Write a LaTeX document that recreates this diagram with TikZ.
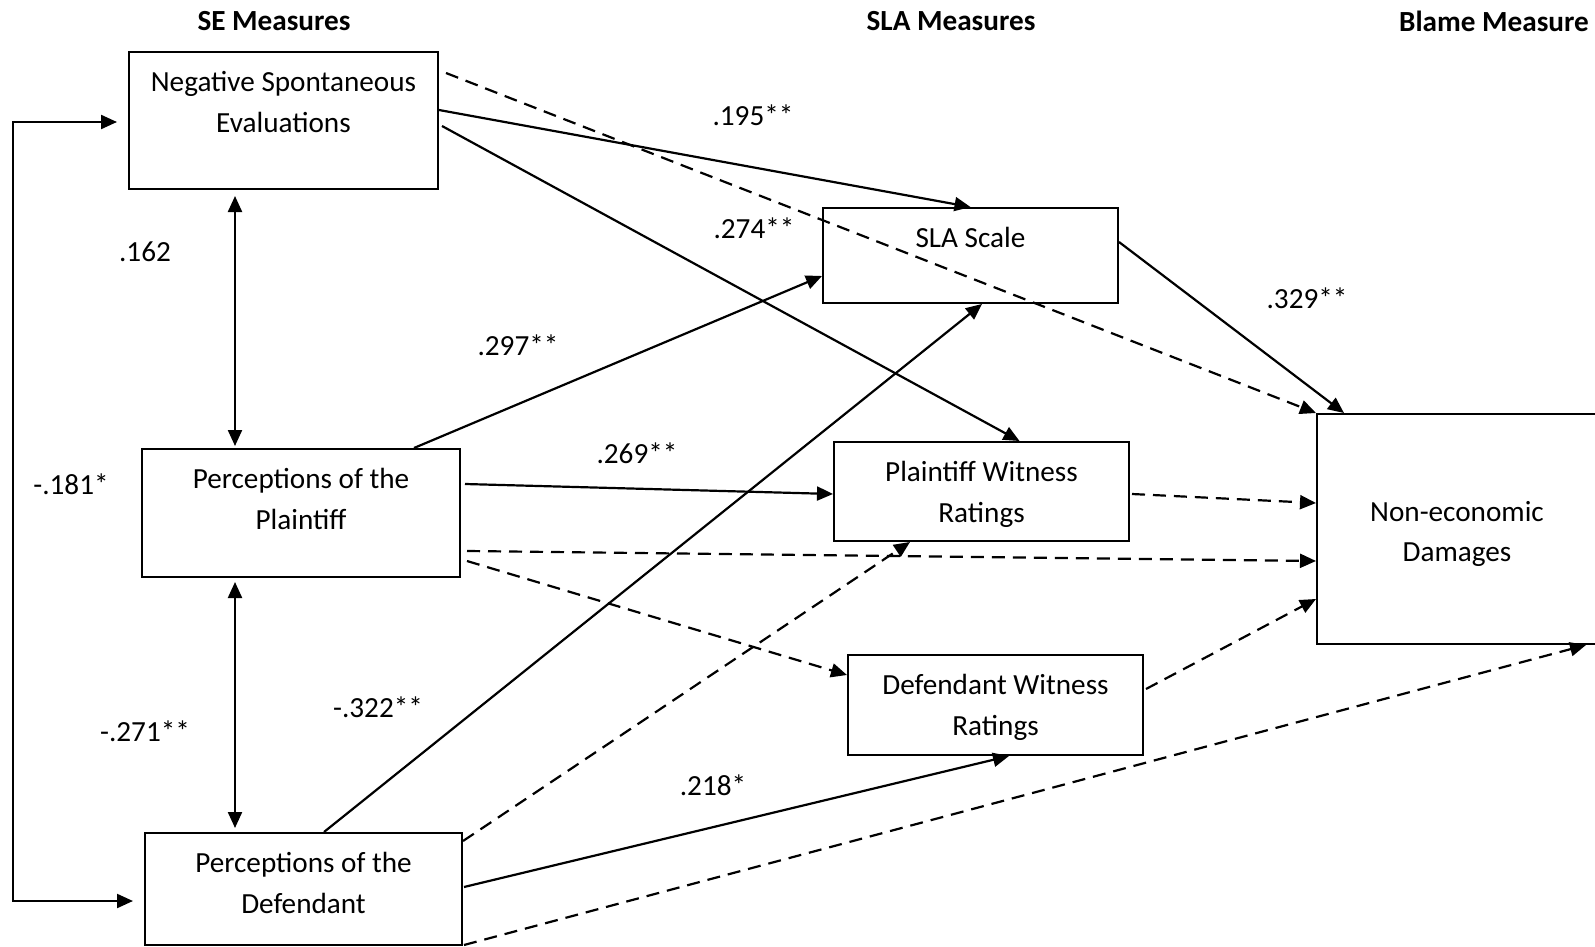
\documentclass[tikz,border=0pt]{standalone}
\usepackage{fontspec}
\setmainfont{Carlito}
\usetikzlibrary{arrows.meta, positioning, calc}

\begin{document}
\begin{tikzpicture}[
    x=0.5pt, y=-0.5pt,
    font=\fontsize{14.6}{20.3}\selectfont,
    >={Triangle[length=8pt,width=7pt]},
    measure/.style={rectangle, draw, line width=1pt, inner sep=0pt},
    boxtext/.style={inner sep=0pt, align=center},
    heading/.style={font=\fontsize{14.6}{20.3}\selectfont\bfseries},
    coef/.style={inner sep=0pt},
    sig/.style={->, line width=1.1pt},
    nonsig/.style={->, line width=1.1pt, dash pattern=on 6.5pt off 4pt},
    corr/.style={<->, line width=1.1pt}
]
\useasboundingbox (0,0) rectangle (1595,947);

% column headings
\node[heading] (seh) at (274,21) {SE Measures};
\node[heading] (slah) at (951,21) {SLA Measures};
\node[heading] (blameh) at (1494,21) {Blame Measure};

% measures
\node[measure, minimum width=154.5pt, minimum height=68.5pt] (nse) at (283.5,120.5) {};
\node[measure, minimum width=159pt, minimum height=64pt] (pp) at (301,513) {};
\node[measure, minimum width=158.5pt, minimum height=56pt] (dp) at (303.5,889) {};
\node[measure, minimum width=147.5pt, minimum height=47.5pt] (sla) at (970.5,255.5) {};
\node[measure, minimum width=147.5pt, minimum height=49.5pt] (pw) at (981.5,491.5) {};
\node[measure, minimum width=147.5pt, minimum height=50pt] (dw) at (995.5,705) {};
\node[measure, minimum width=140pt, minimum height=115pt] (ne) at (1457,529) {};

\node[boxtext, below=10pt of nse.north] (nsetext) {Negative Spontaneous\\Evaluations};
\node[boxtext, below=10pt of pp.north] (pptext) {Perceptions of the\\Plaintiff};
\node[boxtext, below=10pt of dp.north] (dptext) {Perceptions of the\\Defendant};
\node[boxtext, below=10pt of sla.north] (slatext) {SLA Scale};
\node[boxtext, below=10pt of pw.north] (pwtext) {Plaintiff Witness\\Ratings};
\node[boxtext, below=10pt of dw.north] (dwtext) {Defendant Witness\\Ratings};
\node[boxtext] (netext) at ($(ne.center)+(0,5)$) {Non-economic\\Damages};

% correlations
\coordinate (corrx) at (235,0);
\coordinate (loopT) at (13,122);
\coordinate (loopB) at (13,901);
\draw[corr, shorten <=3pt, shorten >=1pt] (corrx |- nse.south) -- (corrx |- pp.north);
\draw[corr, shorten <=2pt, shorten >=2pt] (corrx |- pp.south) -- (corrx |- dp.north);
\draw[corr, shorten <=5.5pt, shorten >=5.5pt] (nse.west |- loopT) -- (loopT) -- (loopB) -- (dp.west |- loopB);

% paths
\draw[sig] ($(nse.north east)+(0,59)$) -- (sla.north);
\draw[nonsig] ($(nse.north east)+(7,22)$) -- (ne.north west);
\draw[sig] ($(nse.north east)+(3,75)$) -- ($(pw.north)+(38,0)$);
\draw[sig] ($(sla.north east)+(0,35)$) -- ($(ne.north west)+(28,0)$);
\draw[sig] ($(pp.north west)+(273,0)$) -- ($(sla.south west)+(0,-28)$);
\draw[sig] ($(pp.north east)+(4,36)$) -- ($(pw.north west)+(0,53)$);
\draw[sig] ($(dp.north west)+(180,0)$) -- ($(sla.south west)+(160,0)$);
\draw[nonsig] ($(dp.north east)+(0,9)$) -- ($(pw.south west)+(77,0)$);
\draw[nonsig] ($(pp.north east)+(6,103)$) -- ($(ne.north west)+(0,148)$);
\draw[nonsig] ($(pp.north east)+(6,113)$) -- ($(dw.north west)+(0,21)$);
\draw[nonsig] ($(pw.north east)+(2,53)$) -- ($(ne.north west)+(0,90)$);
\draw[nonsig] ($(dw.north east)+(2,35)$) -- ($(ne.north west)+(0,186)$);
\draw[sig] ($(dp.north east)+(1,55)$) -- ($(dw.south west)+(162,0)$);
\draw[nonsig] ($(dp.south east)+(1,-1)$) -- ($(ne.south east)+(-12,0)$);

% coefficients
\node[coef] (c1) at (753,115) {.195**};
\node[coef] (c2) at (754,228) {.274**};
\node[coef] (c3) at (1307,298) {.329**};
\node[coef] (c4) at (518,345) {.297**};
\node[coef] (c5) at (637,453) {.269**};
\node[coef] (c6) at (378,707) {-.322**};
\node[coef] (c7) at (713,785) {.218*};
\node[coef] (c8) at (145,252) {.162};
\node[coef] (c9) at (145,731) {-.271**};
\node[coef] (c10) at (71,484) {-.181*};

\end{tikzpicture}
\end{document}
